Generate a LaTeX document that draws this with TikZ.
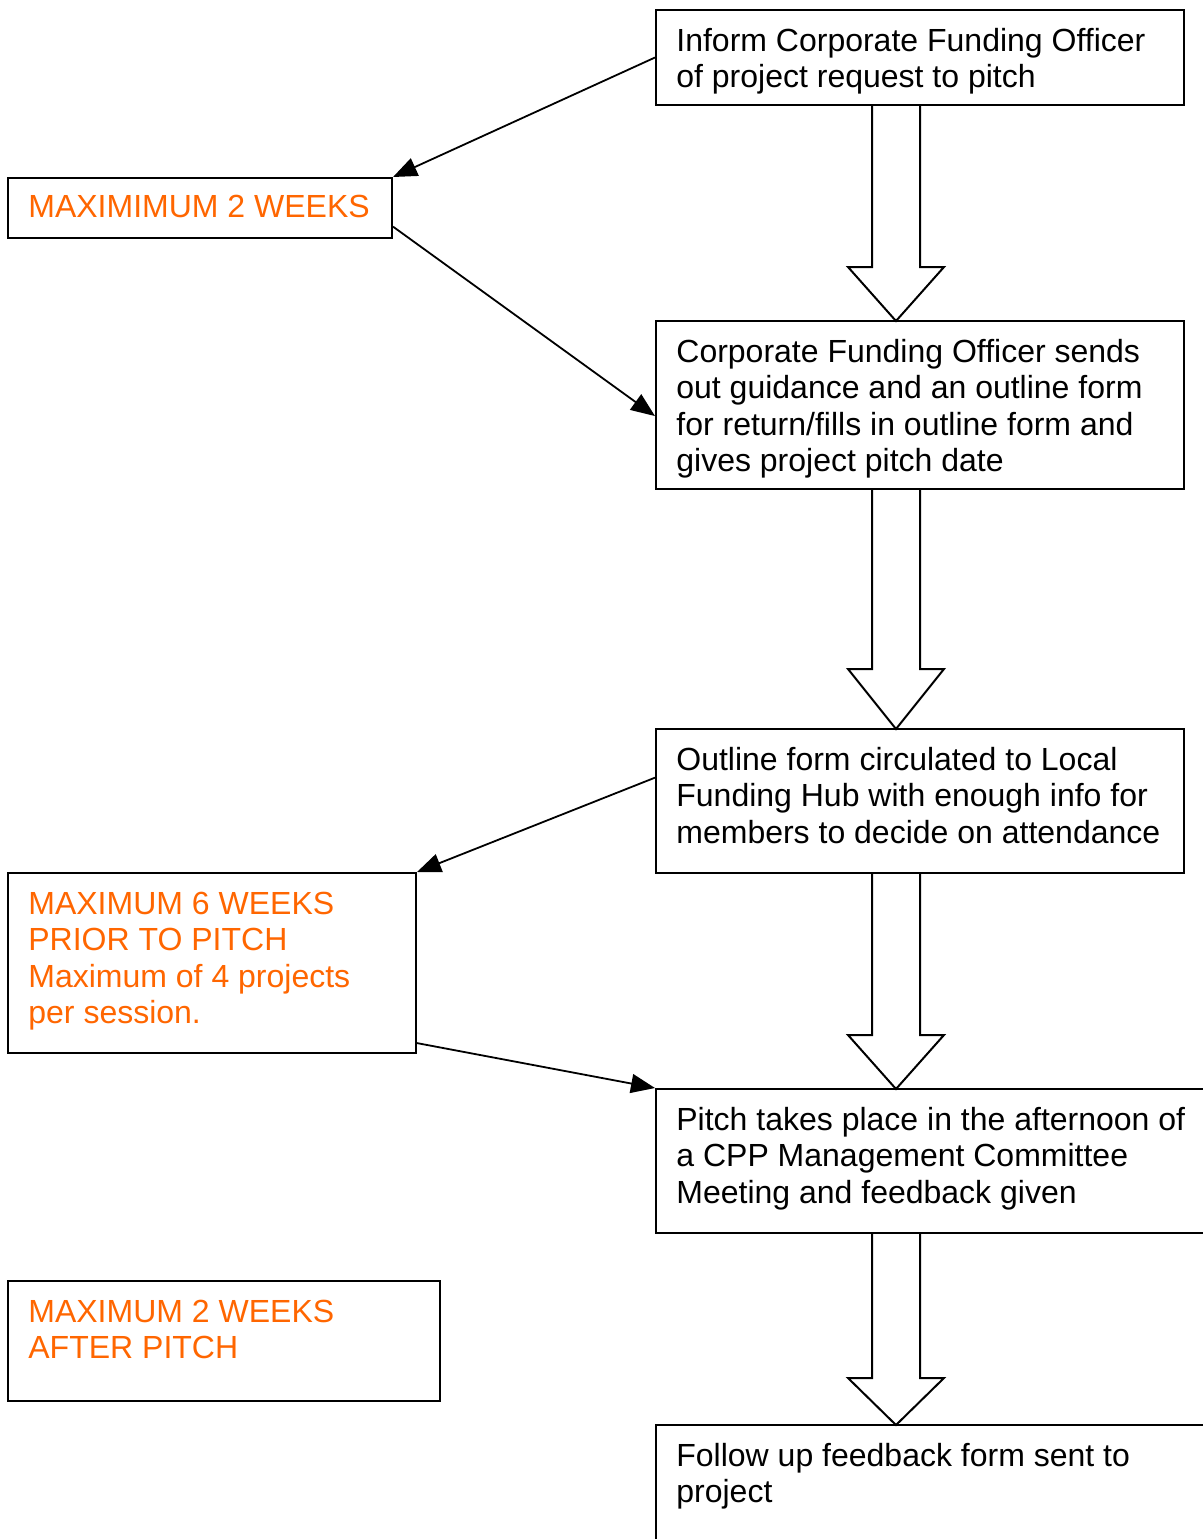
\documentclass[tikz,border=0pt]{standalone}
\usepackage{fontspec}
\setmainfont{Liberation Sans}
\usetikzlibrary{arrows.meta,fit,calc}
\definecolor{deadline}{HTML}{FF6600}
\tikzset{
  stage/.style={draw, line width=1pt, inner sep=0pt},
  words/.style={anchor=north west, inner sep=0pt, align=left,
    font=\fontsize{16pt}{18.25pt}\selectfont},
  limit/.style={words, text=deadline},
  link/.style={line width=0.9pt, -{Triangle[length=12pt,width=9.5pt]}},
  hollow/.style={draw, line width=1pt, line join=miter}
}
% hollow down arrow: shaft top, head top, tip
\newcommand{\flowarrow}[3]{%
  \draw[hollow] (872,#1) -- (872,#2) -- (848,#2) -- (896,#3) -- (944,#2) -- (920,#2) -- (920,#1);}
\begin{document}
\begin{tikzpicture}[x=0.5pt,y=-0.5pt]
\useasboundingbox[fill=white] (0,0) rectangle (1203,1539);

% steps
\node[stage, fit={(656,10) (1184,105)}] (inform) {};
\node[stage, fit={(656,321) (1184,489)}] (guidance) {};
\node[stage, fit={(656,729) (1184,873)}] (outline) {};
\node[stage, fit={(656,1089) (1215,1233)}] (pitch) {};
\node[stage, fit={(656,1425) (1215,1560)}] (followup) {};

% time limits
\node[stage, fit={(8,178) (392,238)}] (twoweeks) {};
\node[stage, fit={(8,873) (416,1053)}] (sixweeks) {};
\node[stage, fit={(8,1281) (440,1401)}] (afterpitch) {};

\node[words] (informtext) at ([shift={(10.5pt,-8.2pt)}]inform.north west)
  {\strut Inform Corporate Funding Officer\\of project request to pitch};
\node[words] (guidancetext) at ([shift={(10.5pt,-8.2pt)}]guidance.north west)
  {\strut Corporate Funding Officer sends\\out guidance and an outline form\\for return/fills in outline form and\\gives project pitch date};
\node[words] (outlinetext) at ([shift={(10.5pt,-8.2pt)}]outline.north west)
  {\strut Outline form circulated to Local\\Funding Hub with enough info for\\members to decide on attendance};
\node[words] (pitchtext) at ([shift={(10.5pt,-8.2pt)}]pitch.north west)
  {\strut Pitch takes place in the afternoon of\\a CPP Management Committee\\Meeting and feedback given};
\node[words] (followuptext) at ([shift={(10.5pt,-8.2pt)}]followup.north west)
  {\strut Follow up feedback form sent to\\project};

\node[limit] (twoweekstext) at ([shift={(10.5pt,-7.2pt)}]twoweeks.north west)
  {\strut MAXIMIMUM 2 WEEKS};
\node[limit] (sixweekstext) at ([shift={(10.5pt,-8.2pt)}]sixweeks.north west)
  {\strut MAXIMUM 6 WEEKS\\PRIOR TO PITCH\\Maximum of 4 projects\\per session.};
\node[limit] (afterpitchtext) at ([shift={(10.5pt,-8.2pt)}]afterpitch.north west)
  {\strut MAXIMUM 2 WEEKS\\AFTER PITCH};

% thin arrows
\draw[link] (inform.west) -- (twoweeks.north east);
\draw[link] ($(twoweeks.north east)!0.8!(twoweeks.south east)$) -- ($(guidance.north west)!0.565!(guidance.south west)$);
\draw[link] ($(outline.north west)!0.34!(outline.south west)$) -- (sixweeks.north east);
\draw[link] ($(sixweeks.north east)!0.94!(sixweeks.south east)$) -- (pitch.north west);

% block arrows
\flowarrow{105}{267}{321}
\flowarrow{489}{669}{729}
\flowarrow{873}{1035}{1089}
\flowarrow{1233}{1378}{1425}
\end{tikzpicture}
\end{document}
